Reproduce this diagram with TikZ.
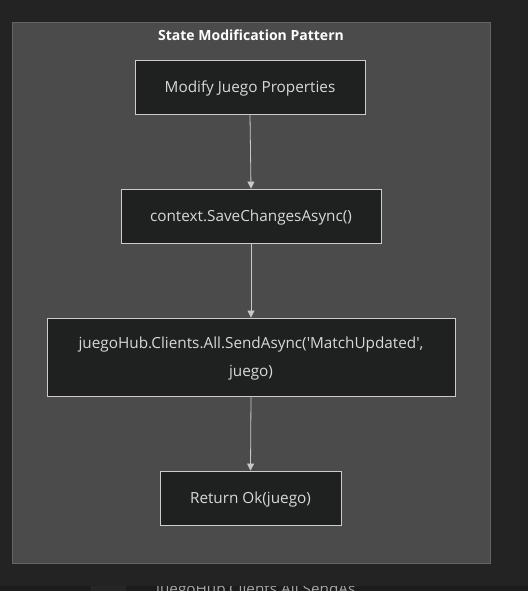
\documentclass[tikz,border=0pt]{standalone}
\usepackage{fontspec}
\setmainfont{Open Sans}
\usetikzlibrary{arrows.meta}
\definecolor{bgc}{HTML}{232323}
\definecolor{clusterfill}{HTML}{4A4B4A}
\definecolor{clusterdraw}{HTML}{636463}
\definecolor{boxfill}{HTML}{1F2020}
\definecolor{boxdraw}{HTML}{CCCCCC}
\definecolor{boxtext}{HTML}{D8D8D8}
\definecolor{edgec}{HTML}{C8C8C8}
\definecolor{stripc}{HTML}{1C1C1C}
\definecolor{stripbox}{HTML}{262626}
\newcommand{\steptext}[1]{\raisebox{-1.5pt}{\begin{tabular}{@{}c@{}}#1\end{tabular}}}
\tikzset{
  stepbox/.style={draw=boxdraw, line width=0.9pt, fill=boxfill, text=boxtext,
    font=\fontsize{15.3}{28}\selectfont, align=center, inner sep=0pt},
  flow/.style={draw=edgec, line width=0.8pt, -{Triangle[length=7pt,width=7pt]}}
}
\begin{document}
\begin{tikzpicture}[x=1pt,y=-1pt]
\useasboundingbox (0,0) rectangle (528,591);
\fill[bgc] (0,0) rectangle (528,591);
\fill[stripc] (0,586) rectangle (528,591);
\fill[stripbox] (91,586) rectangle (126,591);
\begin{scope}
\clip (0,586) rectangle (528,591);
\node[text=gray!70, font=\fontsize{15.3}{18}\selectfont, anchor=north west, inner sep=0pt] (frag) at (156,583) {juegoHub.Clients.All.SendAs};
\end{scope}
\node[draw=clusterdraw, line width=1pt, fill=clusterfill, minimum width=478pt, minimum height=541pt, anchor=north west, inner sep=0pt] (cluster) at (12,22) {};
\node[text=white, font=\fontsize{14}{17}\selectfont\bfseries] (title) at (251,35.5) {State Modification Pattern};
\node[stepbox, minimum width=230pt, minimum height=54pt] (b1) at (250,87) {\steptext{Modify Juego Properties}};
\node[stepbox, minimum width=260pt, minimum height=54pt] (b2) at (251,216) {\steptext{context.SaveChangesAsync()}};
\node[stepbox, minimum width=408pt, minimum height=78pt] (b3) at (251,357) {\steptext{juegoHub.Clients.All.SendAsync(\textquotesingle MatchUpdated\textquotesingle,\\juego)}};
\node[stepbox, minimum width=181pt, minimum height=54pt] (b4) at (250.5,498) {\steptext{Return Ok(juego)}};
\draw[flow] (b1.south) -- (b2.north);
\draw[flow] (b2.south) -- (b3.north);
\draw[flow] (b3.south) -- (b4.north);
\end{tikzpicture}
\end{document}
